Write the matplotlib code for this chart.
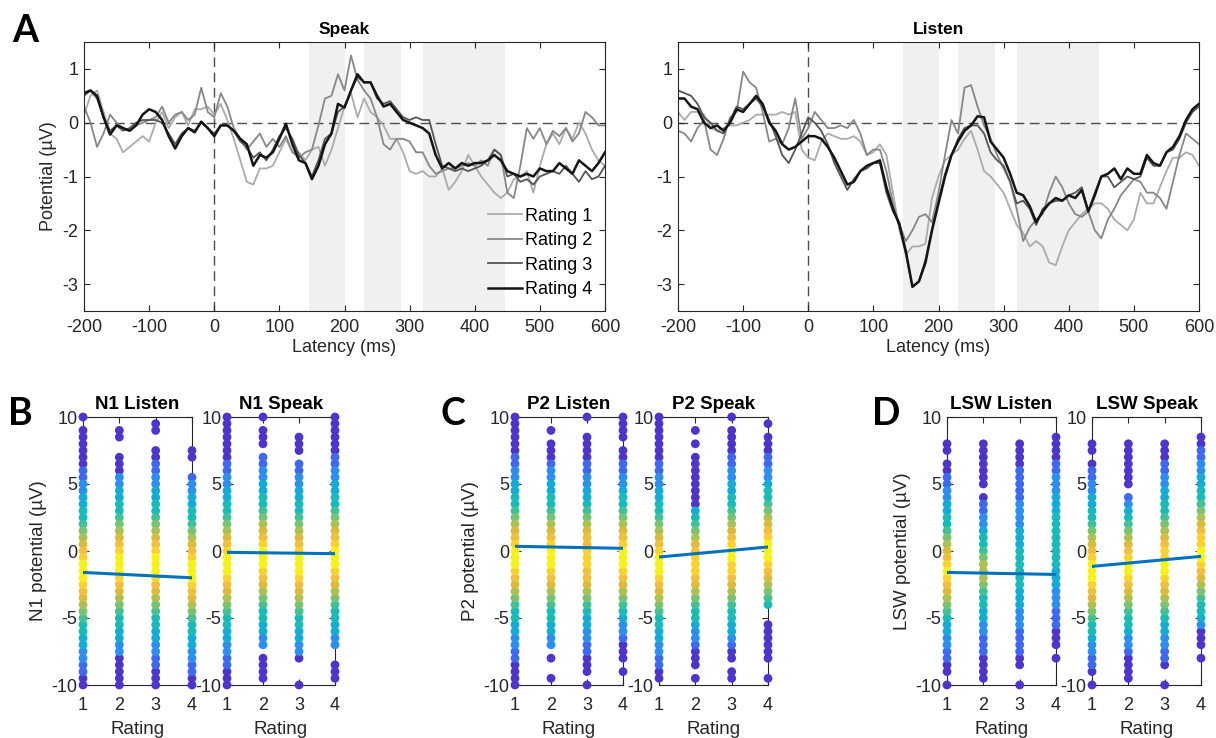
import numpy as np
import matplotlib
matplotlib.use("Agg")
import matplotlib.pyplot as plt
from matplotlib.colors import LinearSegmentedColormap

plt.rcParams["font.family"] = ["Liberation Sans", "DejaVu Sans"]
plt.rcParams["axes.unicode_minus"] = False

# ---- ERP waveforms (uV), sampled every 10 ms from -200 to 600 ms ----
latency_ms = list(range(-200, 601, 10))

speak_r1 = [0.15, 0.5, 0.6, 0.2, -0.2, -0.3, -0.55, -0.45, -0.35, -0.25,
            -0.35, 0.0, 0.2, -0.1, 0.1, 0.2, -0.05, 0.25, 0.25, 0.3,
            0.15, 0.35, 0.05, -0.3, -0.7, -1.1, -1.15, -0.85, -0.85, -0.8,
            -0.55, -0.3, -0.55, -0.55, -0.7, -0.5, -0.45, -0.8, -0.5, -0.1,
            0.3, 0.55, 0.1, 0.45, 0.2, 0.1, -0.05, -0.3, -0.3, -0.55,
            -0.9, -0.95, -0.9, -1.0, -1.0, -0.85, -1.25, -1.1, -0.9, -0.6,
            -0.8, -1.0, -1.15, -1.3, -1.4, -1.3, -1.05, -1.0, -0.9, -1.3,
            -0.8, -0.4, -0.2, -0.4, -0.1, -0.3, 0.0, -0.2, -0.5, -0.7, -0.8]
speak_r2 = [0.3, 0.0, -0.45, -0.2, 0.15, 0.0, -0.1, -0.15, -0.05, 0.0,
            0.05, 0.1, 0.3, 0.0, 0.15, 0.2, 0.05, 0.15, 0.65, 0.2,
            0.1, 0.55, 0.3, -0.1, -0.3, -0.5, -0.35, -0.2, -0.45, -0.3,
            -0.45, -0.25, -0.55, -0.65, -0.55, -0.5, -0.05, 0.45, 0.5, 0.9,
            0.6, 1.25, 0.8, 0.6, 0.45, 0.1, -0.4, -0.5, -0.3, -0.3,
            -0.35, -0.55, -0.55, -0.8, -0.95, -0.9, -0.85, -0.85, -0.8, -0.75,
            -0.8, -0.7, -0.8, -0.5, -0.6, -1.3, -1.4, -0.8, -0.1, -0.3,
            -0.1, -0.4, -0.15, -0.25, -0.1, -0.35, -0.2, 0.2, 0.1, -0.05, -0.05]
speak_r3 = [0.5, 0.6, 0.45, 0.1, -0.15, -0.05, -0.15, -0.1, 0.0, 0.05,
            0.05, 0.05, 0.0, -0.2, -0.4, -0.2, -0.1, -0.15, 0.0, -0.1,
            -0.2, -0.05, -0.05, -0.15, -0.35, -0.45, -0.65, -0.55, -0.7, -0.5,
            -0.25, -0.1, -0.3, -0.6, -0.75, -1.0, -0.7, -0.3, -0.2, 0.2,
            0.3, 0.6, 0.85, 0.75, 0.75, 0.45, 0.35, 0.4, 0.25, 0.1,
            0.05, 0.1, 0.05, 0.05, -0.4, -0.8, -0.85, -0.9, -0.85, -0.9,
            -0.85, -0.8, -0.7, -0.5, -0.6, -1.0, -0.95, -1.1, -1.05, -1.15,
            -1.0, -0.95, -0.9, -0.95, -0.8, -0.95, -1.1, -0.9, -1.05, -1.0, -0.8]
speak_r4 = [0.55, 0.6, 0.5, 0.1, -0.22, -0.05, -0.1, -0.15, -0.05, 0.15,
            0.25, 0.2, 0.05, -0.25, -0.48, -0.25, -0.1, -0.18, 0.02, -0.1,
            -0.25, -0.05, -0.05, -0.15, -0.3, -0.4, -0.8, -0.6, -0.65, -0.55,
            -0.3, -0.02, -0.4, -0.7, -0.75, -1.05, -0.8, -0.4, -0.2, 0.35,
            0.28, 0.6, 0.9, 0.75, 0.75, 0.5, 0.3, 0.35, 0.2, 0.05,
            0.0, -0.05, -0.1, -0.2, -0.6, -0.85, -0.75, -0.85, -0.75, -0.8,
            -0.75, -0.75, -0.7, -0.6, -0.7, -0.9, -0.95, -1.0, -0.95, -1.0,
            -0.85, -0.9, -0.9, -0.75, -0.85, -0.95, -0.7, -0.8, -0.9, -0.75, -0.55]

listen_r1 = [0.2, 0.05, 0.2, 0.2, 0.15, -0.1, -0.15, -0.1, -0.05, -0.05,
             0.0, 0.05, 0.15, 0.15, 0.15, 0.15, 0.2, 0.15, 0.2, -0.5,
             -0.65, -0.7, -0.35, -0.2, -0.25, -0.3, -0.3, -0.25, -0.35, -0.6,
             -0.55, -0.4, -0.6, -1.3, -2.0, -2.45, -2.3, -2.3, -2.25, -1.4,
             -1.0, -0.7, -0.6, -0.5, -0.3, -0.15, -0.5, -0.9, -1.0, -1.15,
             -1.3, -1.6, -1.9, -2.05, -2.3, -2.2, -2.3, -2.6, -2.65, -2.3,
             -2.0, -1.85, -1.7, -1.6, -1.5, -1.5, -1.6, -1.8, -1.9, -2.0,
             -1.8, -1.3, -1.5, -1.5, -1.2, -0.9, -0.65, -0.65, -0.55, -0.6, -0.8]
listen_r2 = [-0.15, -0.2, -0.35, -0.1, 0.05, -0.5, -0.6, -0.3, 0.1, 0.2,
             0.95, 0.75, 0.65, 0.2, -0.35, -0.3, -0.4, -0.1, 0.45, -0.3,
             -0.1, 0.2, 0.05, -0.1, -0.1, -0.05, -0.1, 0.05, -0.2, -0.6,
             -0.5, -0.5, -0.9, -1.5, -1.9, -2.2, -2.0, -1.75, -1.7, -1.85,
             -1.3, -0.6, 0.05, -0.2, 0.65, 0.7, 0.3, -0.05, -0.3, -0.6,
             -0.85, -1.1, -1.6, -2.2, -1.95, -1.8, -1.7, -1.3, -1.0, -1.2,
             -1.5, -1.7, -1.75, -1.65, -2.0, -2.15, -1.8, -1.6, -1.35, -1.2,
             -1.05, -1.1, -1.3, -1.3, -1.4, -1.6, -1.1, -0.6, -0.2, -0.3, -0.4]
listen_r3 = [0.6, 0.55, 0.5, 0.35, 0.1, 0.0, -0.15, -0.2, 0.05, 0.3,
             0.25, 0.35, 0.45, 0.3, 0.05, -0.25, -0.6, -0.75, -0.5, -0.2,
             0.1, 0.0, -0.15, -0.4, -0.75, -1.0, -1.25, -1.05, -0.9, -0.85,
             -0.75, -0.75, -1.3, -1.65, -1.85, -2.45, -3.05, -2.95, -2.55, -2.0,
             -1.45, -0.95, -0.6, -0.3, -0.1, -0.05, -0.05, -0.2, -0.55, -0.7,
             -0.8, -1.1, -1.5, -1.45, -1.6, -1.9, -1.6, -1.5, -1.45, -1.45,
             -1.35, -1.3, -1.2, -1.65, -1.3, -1.0, -1.0, -1.2, -1.1, -1.0,
             -1.05, -1.0, -0.65, -0.8, -0.8, -0.55, -0.5, -0.3, 0.0, 0.2, 0.3]
listen_r4 = [0.45, 0.45, 0.3, 0.25, 0.0, -0.1, -0.05, -0.15, 0.0, 0.25,
             0.2, 0.35, 0.5, 0.35, 0.0, -0.15, -0.4, -0.5, -0.45, -0.35,
             -0.25, -0.25, -0.3, -0.45, -0.65, -0.9, -1.15, -1.1, -0.9, -0.8,
             -0.75, -0.7, -1.2, -1.6, -1.9, -2.4, -3.05, -2.95, -2.6, -2.0,
             -1.5, -1.0, -0.6, -0.35, -0.15, -0.05, 0.12, 0.1, -0.35, -0.5,
             -0.65, -0.95, -1.3, -1.35, -1.55, -1.85, -1.65, -1.5, -1.4, -1.45,
             -1.35, -1.4, -1.25, -1.65, -1.35, -1.0, -0.95, -0.85, -1.05, -0.85,
             -0.95, -0.95, -0.6, -0.75, -0.8, -0.55, -0.45, -0.25, 0.05, 0.25, 0.35]

shade_windows = [(145, 200), (230, 287), (321, 446)]
rating_labels = ["Rating 1", "Rating 2", "Rating 3", "Rating 4"]

# ---- single-trial amplitudes: trial counts per 0.5 uV bin, per rating ----
ratings = [1, 2, 3, 4]
y_bins = [10.0, 9.5, 9.0, 8.5, 8.0, 7.5, 7.0, 6.5, 6.0, 5.5, 5.0, 4.5, 4.0, 3.5,
          3.0, 2.5, 2.0, 1.5, 1.0, 0.5, 0.0, -0.5, -1.0, -1.5, -2.0, -2.5, -3.0,
          -3.5, -4.0, -4.5, -5.0, -5.5, -6.0, -6.5, -7.0, -7.5, -8.0, -8.5, -9.0,
          -9.5, -10.0]

n1_listen_counts = [
    [1, 0, 1, 1, 1, 1, 1, 1, 2, 2, 3, 3, 4, 4, 5, 5, 6, 7, 8, 9, 10, 11, 12, 12, 12, 11, 10, 9, 8, 7, 6, 5, 5, 4, 4, 3, 3, 2, 2, 1, 1],
    [0, 0, 1, 1, 0, 0, 1, 1, 1, 3, 3, 4, 4, 5, 5, 6, 7, 8, 9, 10, 11, 12, 12, 12, 11, 10, 9, 8, 7, 6, 5, 5, 4, 4, 3, 3, 1, 1, 1, 1, 1],
    [0, 1, 1, 0, 0, 1, 1, 2, 2, 3, 3, 4, 4, 5, 5, 6, 7, 8, 9, 10, 11, 12, 12, 12, 11, 10, 9, 8, 7, 6, 5, 5, 4, 4, 3, 3, 2, 2, 1, 1, 1],
    [0, 0, 0, 0, 0, 1, 1, 0, 0, 2, 3, 3, 4, 4, 5, 5, 6, 7, 8, 9, 10, 11, 12, 12, 12, 11, 10, 9, 8, 7, 6, 5, 5, 4, 4, 3, 3, 2, 2, 1, 1],
]
n1_speak_counts = [
    [1, 1, 1, 1, 1, 1, 1, 2, 2, 3, 3, 4, 4, 5, 5, 6, 7, 8, 9, 10, 11, 12, 12, 12, 11, 10, 9, 8, 7, 6, 5, 5, 4, 4, 3, 3, 2, 2, 1, 1, 1],
    [1, 0, 1, 1, 1, 0, 2, 2, 3, 3, 4, 4, 5, 5, 6, 7, 8, 9, 10, 11, 12, 12, 12, 11, 10, 9, 8, 7, 6, 5, 5, 4, 4, 3, 3, 0, 1, 1, 1, 1, 0],
    [0, 0, 0, 1, 1, 1, 0, 2, 2, 3, 3, 4, 4, 5, 5, 6, 7, 8, 9, 10, 11, 12, 12, 12, 11, 10, 9, 8, 7, 6, 5, 5, 4, 4, 3, 3, 1, 0, 0, 0, 1],
    [1, 1, 1, 1, 1, 1, 2, 2, 3, 3, 4, 4, 5, 5, 6, 7, 8, 9, 10, 11, 12, 12, 12, 11, 10, 9, 8, 7, 6, 5, 5, 4, 4, 3, 3, 0, 0, 1, 1, 1, 0],
]
p2_listen_counts = [
    [1, 1, 1, 1, 1, 1, 2, 2, 3, 3, 4, 4, 5, 5, 6, 7, 8, 9, 10, 11, 12, 12, 12, 11, 10, 9, 8, 7, 6, 5, 5, 4, 4, 3, 3, 2, 2, 1, 1, 1, 1],
    [0, 0, 1, 0, 1, 1, 1, 2, 3, 3, 4, 4, 5, 5, 6, 7, 8, 9, 10, 11, 12, 12, 12, 11, 10, 9, 8, 7, 6, 5, 5, 4, 4, 3, 3, 0, 1, 0, 0, 1, 0],
    [1, 0, 0, 1, 1, 1, 1, 2, 2, 3, 3, 4, 4, 5, 6, 7, 8, 9, 10, 10, 11, 11, 11, 10, 10, 9, 8, 7, 6, 5, 4, 4, 3, 3, 2, 2, 1, 1, 1, 0, 1],
    [1, 1, 1, 1, 0, 1, 1, 2, 2, 3, 3, 4, 5, 5, 6, 7, 8, 9, 10, 11, 12, 12, 12, 11, 10, 9, 8, 7, 6, 5, 4, 3, 3, 2, 1, 1, 1, 0, 1, 0, 0],
]
p2_speak_counts = [
    [1, 1, 1, 1, 1, 1, 1, 2, 2, 3, 3, 4, 4, 5, 5, 6, 7, 8, 9, 10, 11, 12, 12, 12, 11, 10, 9, 8, 7, 6, 5, 5, 4, 4, 3, 3, 2, 2, 1, 1, 0],
    [0, 0, 1, 0, 1, 0, 1, 1, 1, 1, 1, 1, 1, 1, 4, 5, 6, 7, 8, 9, 10, 11, 11, 11, 10, 9, 8, 7, 6, 5, 5, 4, 3, 3, 2, 1, 1, 1, 0, 1, 0],
    [1, 0, 1, 1, 1, 1, 2, 2, 3, 3, 4, 4, 5, 5, 6, 7, 8, 9, 10, 11, 12, 12, 11, 11, 10, 9, 8, 7, 6, 5, 5, 4, 4, 3, 2, 1, 1, 0, 1, 1, 0],
    [0, 1, 0, 1, 1, 1, 2, 2, 3, 3, 4, 5, 5, 6, 7, 8, 9, 10, 11, 12, 12, 12, 11, 10, 9, 8, 7, 6, 5, 0, 0, 1, 1, 1, 1, 1, 1, 0, 0, 1, 0],
]
lsw_listen_counts = [
    [0, 0, 0, 0, 1, 1, 0, 1, 1, 2, 2, 3, 3, 4, 4, 5, 5, 6, 7, 8, 9, 10, 11, 12, 11, 10, 9, 8, 7, 6, 5, 4, 4, 3, 3, 2, 2, 1, 1, 0, 1],
    [0, 0, 0, 0, 1, 1, 1, 1, 1, 1, 1, 0, 1, 2, 2, 3, 3, 4, 5, 5, 6, 7, 8, 8, 8, 7, 6, 5, 5, 4, 4, 3, 3, 2, 2, 2, 1, 1, 1, 1, 0],
    [0, 0, 0, 0, 1, 1, 1, 1, 2, 2, 2, 2, 2, 3, 3, 3, 3, 4, 4, 4, 5, 5, 5, 5, 5, 5, 4, 4, 4, 3, 3, 3, 2, 2, 2, 2, 1, 1, 0, 0, 1],
    [0, 0, 0, 1, 1, 1, 1, 2, 2, 3, 3, 3, 4, 4, 4, 5, 5, 5, 5, 5, 5, 5, 5, 4, 4, 4, 3, 3, 3, 2, 2, 2, 1, 1, 1, 0, 1, 0, 0, 0, 0],
]
lsw_speak_counts = [
    [0, 0, 0, 0, 1, 1, 0, 1, 2, 2, 3, 3, 4, 4, 5, 5, 6, 7, 8, 9, 10, 11, 12, 12, 12, 11, 10, 9, 8, 7, 6, 5, 5, 4, 3, 3, 2, 2, 1, 0, 1],
    [0, 0, 0, 0, 1, 1, 1, 1, 1, 1, 1, 0, 2, 3, 4, 5, 6, 7, 8, 9, 10, 11, 12, 12, 11, 10, 9, 8, 7, 6, 5, 5, 4, 3, 3, 2, 1, 1, 1, 1, 0],
    [0, 0, 0, 0, 1, 1, 1, 2, 2, 3, 3, 4, 4, 5, 5, 6, 7, 8, 9, 10, 11, 11, 12, 12, 11, 10, 9, 8, 7, 6, 5, 4, 4, 3, 3, 2, 2, 1, 0, 0, 1],
    [0, 0, 0, 1, 1, 2, 2, 3, 3, 4, 4, 5, 5, 6, 7, 8, 9, 10, 11, 11, 12, 12, 11, 10, 9, 8, 7, 6, 5, 5, 4, 3, 1, 1, 1, 0, 1, 0, 0, 0, 0],
]

# linear fit read at rating 1 and rating 4
n1_listen_fit = [-1.6, -2.0]
n1_speak_fit = [-0.1, -0.2]
p2_listen_fit = [0.35, 0.2]
p2_speak_fit = [-0.45, 0.3]
lsw_listen_fit = [-1.6, -1.75]
lsw_speak_fit = [-1.15, -0.4]

# ---- style ----
ink = "#262626"
line_colors = ["#ababab", "#878787", "#555555", "#141414"]
line_widths = [1.3, 1.3, 1.3, 1.8]
parula = LinearSegmentedColormap.from_list("parula", [
    "#4a35cf", "#4a4ae6", "#3a6ef5", "#2a8ef0", "#12acd8", "#17bcb5",
    "#4cc38c", "#98c45a", "#dcbb3a", "#fbc03a", "#f7f116"])


def style_axes(ax, size, xpad):
    for sp in ax.spines.values():
        sp.set_color(ink)
        sp.set_linewidth(0.8)
    ax.tick_params(direction="in", length=4, width=0.8, top=True, right=True,
                   labelsize=size, colors=ink)
    ax.tick_params(axis="x", pad=xpad)
    ax.tick_params(axis="y", pad=4)


def erp_panel(ax, traces, title, ylabel=None, legend=False):
    for lo, hi in shade_windows:
        ax.axvspan(lo, hi, color="#f0f0f0", lw=0, zorder=0)
    ax.axhline(0, color="#4d4d4d", lw=1, ls=(0, (7, 4)), zorder=1)
    ax.axvline(0, color="#4d4d4d", lw=1, ls=(0, (7, 4)), zorder=1)
    for vals, col, lw, lab in zip(traces, line_colors, line_widths, rating_labels):
        ax.plot(latency_ms, vals, color=col, lw=lw, label=lab, zorder=2)
    ax.set_xlim(-200, 600)
    ax.set_ylim(-3.5, 1.5)
    ax.set_xticks(range(-200, 601, 100))
    ax.set_yticks([-3, -2, -1, 0, 1])
    style_axes(ax, 13, 6)
    ax.set_title(title, fontsize=12.5, fontweight="bold", pad=6)
    ax.set_xlabel("Latency (ms)", fontsize=13, color=ink, labelpad=2)
    if ylabel:
        ax.set_ylabel(ylabel, fontsize=13, color=ink, labelpad=4)
    if legend:
        ax.legend(loc="lower right", frameon=False, fontsize=13, handlelength=1.9,
                  handletextpad=0.15, labelspacing=0.42, borderaxespad=0.3)


def rating_panel(ax, counts, fit, title, ylabel=None):
    xs, ys, cs = [], [], []
    peak = max(max(col) for col in counts)
    for r, col in zip(ratings, counts):
        for y, n in zip(y_bins, col):
            if n > 0:
                xs.append(r)
                ys.append(y)
                cs.append(((n - 1) / (peak - 1)) ** 0.7)
    xs, ys, cs = np.array(xs), np.array(ys), np.array(cs)
    order = np.argsort(cs, kind="stable")
    ax.scatter(xs[order], ys[order], c=cs[order], cmap=parula, vmin=0, vmax=1,
               s=40, edgecolors="none", clip_on=False, zorder=3)
    ax.plot([ratings[0], ratings[-1]], fit, color="#0072bd", lw=2.2, zorder=4)
    ax.set_xlim(1, 4)
    ax.set_ylim(-10, 10)
    ax.set_xticks(ratings)
    ax.set_yticks([-10, -5, 0, 5, 10])
    style_axes(ax, 13, 9)
    ax.set_title(title, fontsize=13.5, fontweight="bold", pad=6)
    ax.set_xlabel("Rating", fontsize=13.5, color=ink, labelpad=5)
    if ylabel:
        ax.set_ylabel(ylabel, fontsize=13.5, color=ink, labelpad=3)


fig = plt.figure(figsize=(12.16, 7.38), dpi=100)
W, H = 1216, 738


def add_axes(left, right, top, bottom):
    return fig.add_axes([left / W, 1 - bottom / H, (right - left) / W, (bottom - top) / H])


ax_speak = add_axes(84, 605, 42, 311)
ax_listen = add_axes(678, 1199, 42, 311)
erp_panel(ax_speak, [speak_r1, speak_r2, speak_r3, speak_r4], "Speak",
          ylabel="Potential (\u00b5V)", legend=True)
erp_panel(ax_listen, [listen_r1, listen_r2, listen_r3, listen_r4], "Listen")

bottom_specs = [
    (83, 192, n1_listen_counts, n1_listen_fit, "N1 Listen", "N1 potential (\u00b5V)"),
    (227, 335, n1_speak_counts, n1_speak_fit, "N1 Speak", None),
    (515, 623, p2_listen_counts, p2_listen_fit, "P2 Listen", "P2 potential (\u00b5V)"),
    (659, 768, p2_speak_counts, p2_speak_fit, "P2 Speak", None),
    (947, 1056, lsw_listen_counts, lsw_listen_fit, "LSW Listen", "LSW potential (\u00b5V)"),
    (1092, 1201, lsw_speak_counts, lsw_speak_fit, "LSW Speak", None),
]
for left, right, counts, fit, title, ylabel in bottom_specs:
    ax = add_axes(left, right, 417, 685)
    rating_panel(ax, counts, fit, title, ylabel)

for letter, x, y in [("A", 12, 14), ("B", 8, 397), ("C", 440, 397), ("D", 872, 397)]:
    fig.text(x / W, 1 - y / H, letter, fontsize=27, fontweight="bold",
             family=["Lato", "DejaVu Sans"], va="top", ha="left")

fig.savefig("out.png", dpi=100)
